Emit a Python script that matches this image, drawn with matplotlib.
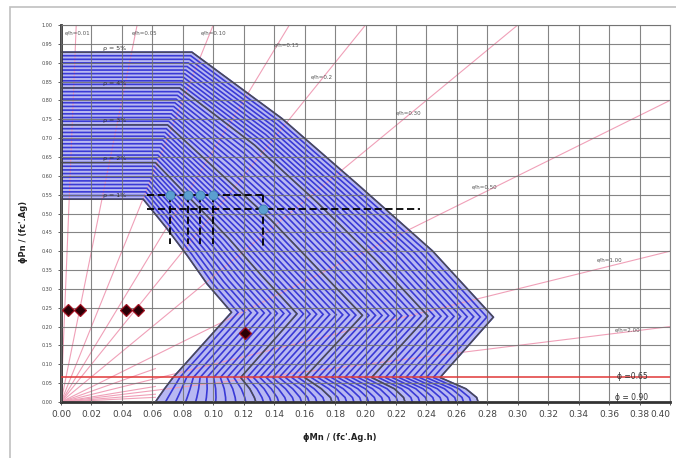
import numpy as np
import matplotlib.pyplot as plt
from matplotlib.patches import Rectangle

# key interaction curves (rho = 1..5 %)
RHO_KEY = [1.0, 2.0, 3.0, 4.0, 5.0]
P_CAP = [0.538, 0.635, 0.735, 0.833, 0.928]
M_CAP = [0.054, 0.062, 0.070, 0.078, 0.086]
M_Q1 = [0.069, 0.086, 0.104, 0.127, 0.145]
M_MID = [0.083, 0.110, 0.138, 0.168, 0.195]
M_Q3 = [0.096, 0.132, 0.168, 0.206, 0.244]
M_NOSE = [0.112, 0.155, 0.198, 0.241, 0.284]
P_NOSE = [0.238, 0.234, 0.230, 0.228, 0.225]
M_PHI = [0.0736, 0.118, 0.160, 0.204, 0.249]
M_LOW1 = [0.068, 0.124, 0.171, 0.219, 0.266]
M_LOW2 = [0.064, 0.127, 0.177, 0.225, 0.273]
M_ZERO = [0.062, 0.128, 0.178, 0.226, 0.274]
P_PHI = 0.065
RHO_LABELS = ["ρ = 1%", "ρ = 2%", "ρ = 3%", "ρ = 4%", "ρ = 5%"]

# e/h radial lines (long ones run to the frame, short ones stay near the origin)
EH_LONG = [0.01, 0.05, 0.10, 0.15, 0.20, 0.30, 0.50, 1.00, 2.00]
EH_SHORT = [0.70, 1.50, 3.00, 5.00]
EH_SHORT_M_END = 0.062
EH_LABELS = ["e/h=0.01", "e/h=0.05", "e/h=0.10", "e/h=0.15", "e/h=0.2",
             "e/h=0.30", "e/h=0.50", "e/h=1.00", "e/h=2.00"]
EH_LABEL_M = [0.011, 0.055, 0.100, 0.148, 0.171, 0.228, 0.278, 0.360, 0.372]
EH_LABEL_P = [0.979, 0.979, 0.979, 0.947, 0.862, 0.767, 0.570, 0.377, 0.191]

# design points
DOT_M = [0.0716, 0.0834, 0.0913, 0.0998]
DOT_P = 0.549
DOT2_M = 0.1327
DOT2_P = 0.512
DIAM_M = [0.0046, 0.0125, 0.0427, 0.0506, 0.121]
DIAM_P = [0.244, 0.244, 0.244, 0.244, 0.183]

X_TICKS = np.arange(0, 0.4001, 0.02)
Y_TICKS = np.arange(0, 1.0001, 0.05)


def curve(rho):
    """Points of one interaction curve for steel ratio rho (%)."""
    g = lambda arr: np.interp(rho, RHO_KEY, arr)
    pc, pn = g(P_CAP), g(P_NOSE)
    ms = [0.0, g(M_CAP), g(M_Q1), g(M_MID), g(M_Q3), g(M_NOSE),
          g(M_PHI), g(M_LOW1), g(M_LOW2), g(M_ZERO)]
    ps = [pc, pc, pc + 0.25 * (pn - pc), pc + 0.5 * (pn - pc),
          pc + 0.75 * (pn - pc), pn, P_PHI, 0.035, 0.012, 0.0]
    return np.array(ms), np.array(ps)


fig = plt.figure(figsize=(6.76, 4.58), dpi=100)
ax = fig.add_axes([61 / 676, 1 - 402 / 458, (670 - 61) / 676, (402 - 25) / 458])

# light fill under the hatch
m_out, p_out = curve(5.0)
m_in, p_in = curve(1.0)
ax.fill(np.r_[m_out, m_in[::-1]], np.r_[p_out, p_in[::-1]],
        color="#b8b8f2", lw=0, zorder=1)

# e/h lines
for eh in EH_LONG:
    p_end = min(1.0, 0.40 / eh)
    ax.plot([0, p_end * eh], [0, p_end], color="#f0a0b8", lw=0.8, zorder=1.5)
for eh in EH_SHORT:
    ax.plot([0, EH_SHORT_M_END], [0, EH_SHORT_M_END / eh], color="#f0a0b8",
            lw=0.8, zorder=1.5)

# hatch curves every 0.1 %
for rho in np.arange(1.0, 5.0001, 0.1):
    m, p = curve(rho)
    ax.plot(m, p, color="#3a3ad6", lw=1.2, zorder=2, solid_joinstyle="miter")

# key curves
for i, rho in enumerate(RHO_KEY):
    m, p = curve(rho)
    ax.plot(m, p, color="#4d4d4d", lw=1.0, zorder=3)
    ax.text(0.0355, P_CAP[i] + 0.004, RHO_LABELS[i], fontsize=4.5,
            color="#333", ha="center", va="bottom", zorder=6)

# phi lines
ax.axhline(P_PHI, color="#e03838", lw=1.1, zorder=4)
ax.text(0.375, P_PHI + 0.002, "ϕ =0.65", fontsize=5.5, color="#333",
        ha="center", va="center", zorder=6)
ax.text(0.375, 0.013, "ϕ = 0.90", fontsize=5.5, color="#333",
        ha="center", va="center", zorder=6)

for txt, mx, py in zip(EH_LABELS, EH_LABEL_M, EH_LABEL_P):
    ax.text(mx, py, txt, fontsize=4, color="#555", ha="center",
            va="center", zorder=6)

# design point dashed guides
dash = dict(color="black", lw=1.3, ls=(0, (4, 2)), zorder=7)
ax.plot([0.0565, DOT2_M], [DOT_P, DOT_P], **dash)
ax.plot([0.0565, 0.236], [DOT2_P, DOT2_P], **dash)
for mx in DOT_M:
    ax.plot([mx, mx], [DOT_P, 0.42], **dash)
ax.plot([DOT2_M, DOT2_M], [DOT_P, 0.41], **dash)
ax.plot(DOT_M, [DOT_P] * len(DOT_M), "o", ms=6.5, mfc="#5b9fd0",
        mec="#3f7fb0", mew=0.6, zorder=8)
ax.plot([DOT2_M], [DOT2_P], "o", ms=6.5, mfc="#5b9fd0", mec="#3f7fb0",
        mew=0.6, zorder=8)

ax.plot(DIAM_M, DIAM_P, "D", ms=6, mfc="#2a0006", mec="#a01020",
        mew=0.9, ls="none", zorder=8)

ax.set_xlim(0, 0.40)
ax.set_ylim(0, 1.0)
ax.set_xticks(X_TICKS)
ax.set_yticks(Y_TICKS)
ax.set_xticklabels([f"{v:.2f}" for v in X_TICKS], fontsize=6.5, color="#444")
ax.set_yticklabels([f"{v:.2f}" for v in Y_TICKS], fontsize=3.5, color="#444")
ax.get_xticklabels()[-1].set_horizontalalignment("right")
ax.tick_params(length=2, width=0.6, colors="#444", pad=4)
ax.set_axisbelow(False)
ax.grid(True, color="#707070", lw=0.8, alpha=0.85)
for side in ("top", "right"):
    ax.spines[side].set_color("#888")
    ax.spines[side].set_linewidth(0.8)
for side in ("left", "bottom"):
    ax.spines[side].set_color("#333")
    ax.spines[side].set_linewidth(2.0)

fig.text(340 / 676, 1 - 437 / 458, "ϕMn / (fc'.Ag.h)", fontsize=6,
         fontweight="bold", ha="center", va="center", color="#222")
fig.text(24 / 676, 1 - 232 / 458, "ϕPn / (fc'.Ag)", fontsize=6,
         fontweight="bold", ha="center", va="center", rotation=90, color="#222")

fig.patches.append(Rectangle((10 / 676, -0.1), 1.2, (458 - 7) / 458 + 0.1,
                             transform=fig.transFigure, fill=False,
                             edgecolor="#c0c0c0", lw=1.2))

fig.savefig("out.png", dpi=100)
